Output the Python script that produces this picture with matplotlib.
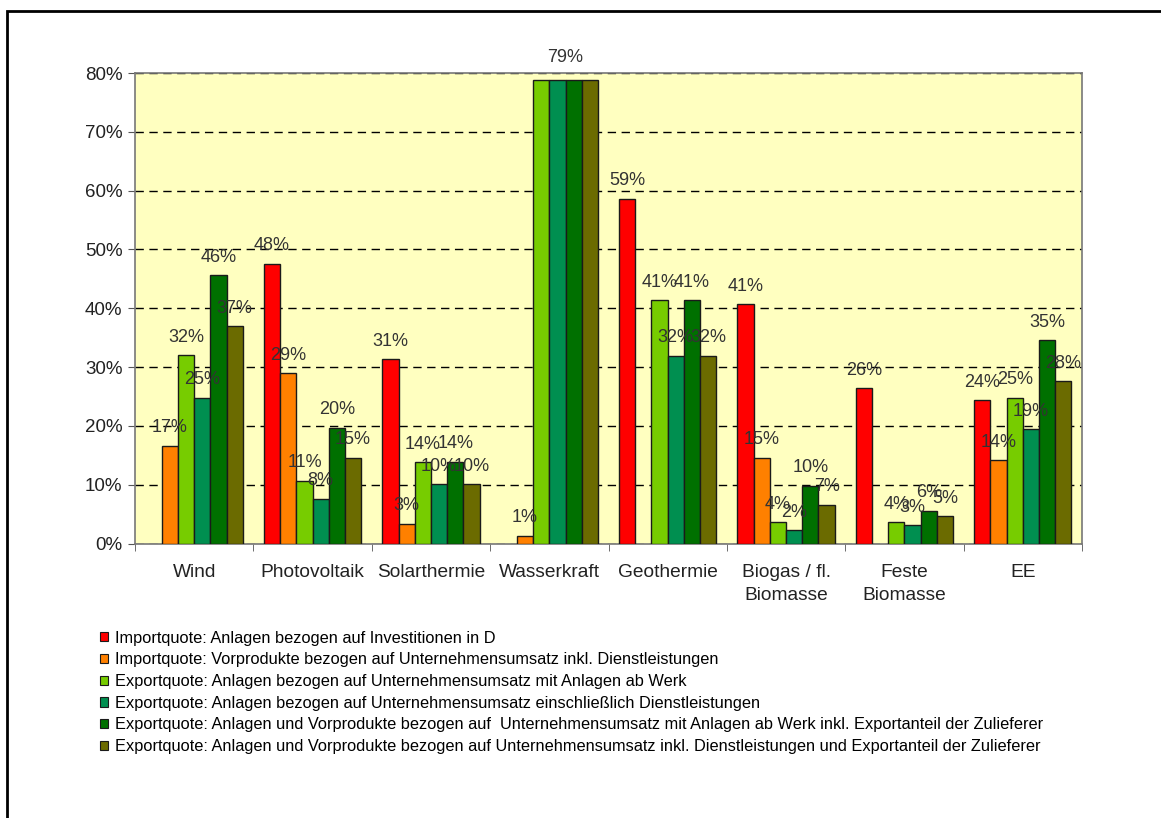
import numpy as np
import matplotlib
matplotlib.use("Agg")
import matplotlib.pyplot as plt
from matplotlib.patches import Rectangle
from matplotlib.ticker import PercentFormatter

plt.rcParams['font.family'] = ['Liberation Sans', 'DejaVu Sans']

categories = ["Wind", "Photovoltaik", "Solarthermie", "Wasserkraft",
              "Geothermie", "Biogas / fl.\nBiomasse", "Feste\nBiomasse", "EE"]

series_names = [
    "Importquote: Anlagen bezogen auf Investitionen in D",
    "Importquote: Vorprodukte bezogen auf Unternehmensumsatz inkl. Dienstleistungen",
    "Exportquote: Anlagen bezogen auf Unternehmensumsatz mit Anlagen ab Werk",
    "Exportquote: Anlagen bezogen auf Unternehmensumsatz einschließlich Dienstleistungen",
    "Exportquote: Anlagen und Vorprodukte bezogen auf  Unternehmensumsatz mit Anlagen ab Werk inkl. Exportanteil der Zulieferer",
    "Exportquote: Anlagen und Vorprodukte bezogen auf Unternehmensumsatz inkl. Dienstleistungen und Exportanteil der Zulieferer",
]

# shares in percent, nan = no value
import_anlagen = [np.nan, 47.6, 31.3, np.nan, 58.6, 40.7, 26.4, 24.4]
import_vorprodukte = [16.6, 29.0, 3.4, 1.3, np.nan, 14.6, np.nan, 14.2]
export_ab_werk = [32.0, 10.7, 13.8, 78.8, 41.4, 3.6, 3.6, 24.8]
export_dienstl = [24.8, 7.6, 10.1, 78.8, 31.9, 2.3, 3.1, 19.4]
export_zulief_werk = [45.6, 19.7, 13.9, 78.8, 41.4, 9.8, 5.6, 34.6]
export_zulief_dienstl = [36.9, 14.6, 10.1, 78.8, 31.9, 6.6, 4.6, 27.6]

values = [import_anlagen, import_vorprodukte, export_ab_werk,
          export_dienstl, export_zulief_werk, export_zulief_dienstl]
colors = ["#FF0000", "#FF8000", "#77CC00", "#008F50", "#007000", "#6B6B00"]

YMAX = 80
LABEL_GAP = 1.6

fig = plt.figure(figsize=(11.61, 8.18), dpi=100)
W, H = 1161, 818
ax = fig.add_axes([135 / W, 1 - 543.5 / H, (1082 - 135) / W, (543.5 - 73) / H])
ax.set_facecolor("#FFFFC0")

x = np.arange(len(categories))
bw = 0.137
clipped = {}  # labels that would run past the top, merged per category
for i, (vals, col) in enumerate(zip(values, colors)):
    pos = x + (i - 2.5) * bw
    v = np.array(vals)
    ax.bar(pos, v, bw, color=col, edgecolor="#1a1a1a", linewidth=1, zorder=3,
           label=series_names[i])
    for k, (px, pv) in enumerate(zip(pos, v)):
        if np.isnan(pv):
            continue
        txt = f"{pv:.0f}%"
        if pv + LABEL_GAP + 3 > YMAX:
            clipped.setdefault((k, txt), []).append(px)
            continue
        ax.text(px, pv + LABEL_GAP, txt, ha="center", va="bottom",
                fontsize=13, color="#333333", zorder=4)

for (k, txt), xs in clipped.items():
    ax.text(np.mean(xs), YMAX + 1.2, txt, ha="center", va="bottom",
            fontsize=13, color="#333333", clip_on=False)

ax.set_xlim(-0.5, len(categories) - 0.5)
ax.set_ylim(0, YMAX)
ax.yaxis.set_major_formatter(PercentFormatter(decimals=0))
ax.set_yticks(np.arange(0, YMAX + 1, 10))
ax.yaxis.grid(True, linestyle=(0, (6, 4)), color="black", linewidth=1, zorder=1)
ax.set_axisbelow(True)

# category names centred, tick marks on the group boundaries
ax.set_xticks(x)
ax.set_xticklabels(categories, fontsize=13.8, linespacing=1.45, color="#222222")
ax.tick_params(axis="x", length=0, pad=15)
ax.set_xticks(np.arange(-0.5, len(categories)), minor=True)
ax.tick_params(axis="x", which="minor", length=5, color="#555555")
ax.tick_params(axis="y", length=5, color="#555555", labelsize=13.5, pad=4,
               labelcolor="#222222")

for sp in ax.spines.values():
    sp.set_color("#777777")
    sp.set_linewidth(1.2)

handles, labels = ax.get_legend_handles_labels()
leg = fig.legend(handles, labels, loc="upper left",
                 bbox_to_anchor=(93 / W, 1 - 624 / H), frameon=False,
                 prop={"size": 11.8},
                 handlelength=0.5, handleheight=0.5, handletextpad=0.45,
                 labelspacing=0.41, borderaxespad=0)
for h in leg.legend_handles:
    h.set_linewidth(0.8)

# outer frame running off the right and bottom edges
fig.patches.append(Rectangle((7 / W, -0.05), 1.2, 1 - 11 / H + 0.05,
                             transform=fig.transFigure, fill=False,
                             edgecolor="black", linewidth=2))

fig.savefig("out.png", dpi=100)
